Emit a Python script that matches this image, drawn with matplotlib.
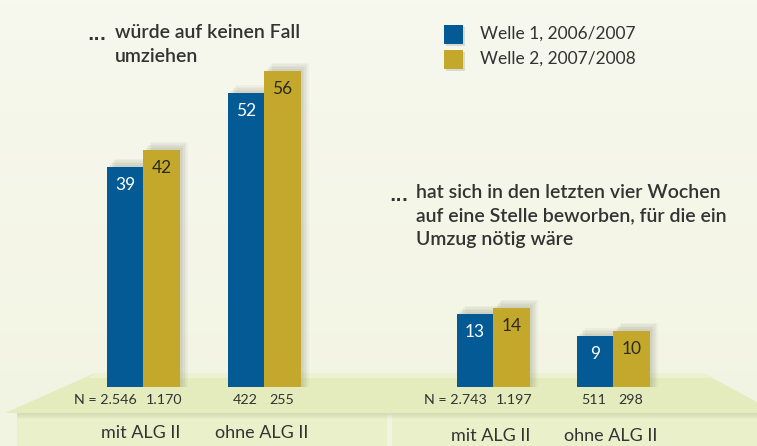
import matplotlib.pyplot as plt
import numpy as np
from matplotlib.patches import Polygon, Rectangle
from matplotlib.colors import LinearSegmentedColormap

# data
waves = ['Welle 1, 2006/2007', 'Welle 2, 2007/2008']
groups = ['mit ALG II', 'ohne ALG II', 'mit ALG II', 'ohne ALG II']
welle1 = [39, 52, 13, 9]
welle2 = [42, 56, 14, 10]
n1 = ['N = 2.546', '422', 'N = 2.743', '511']
n2 = ['1.170', '255', '1.197', '298']
title_left = 'würde auf keinen Fall\numziehen'
title_right = 'hat sich in den letzten vier Wochen\nauf eine Stelle beworben, für die ein\nUmzug nötig wäre'

blue = '#035a94'
gold = '#c4a82c'
txt = '#333333'
plt.rcParams['font.family'] = ['Lato', 'DejaVu Sans']

W, H = 757, 446
fig = plt.figure(figsize=(W / 100, H / 100), dpi=100)

# background / decoration axes in pixel units
bg = fig.add_axes([0, 0, 1, 1])
bg.set_xlim(0, W)
bg.set_ylim(H, 0)
bg.axis('off')
grad = np.linspace(0, 1, 100)[:, None]
bg.imshow(grad, extent=[0, W, H, 0], cmap=LinearSegmentedColormap.from_list(
    'bg', ['#f7f8ee', '#f2f4e2']), aspect='auto', zorder=0)

bg.add_patch(Polygon([(95, 373), (703, 373), (757, 402), (757, 413), (5, 413)],
                     closed=True, fc='#e4ecbd', ec='none', zorder=1))
bg.add_patch(Polygon([(95, 373), (703, 373), (712, 378), (88, 378)],
                     closed=True, fc='#ecf1d0', ec='none', zorder=1))
bg.add_patch(Rectangle((17, 413), 370, 40, fc='#eaf0ca', ec='none', zorder=1))
bg.add_patch(Rectangle((392, 413), 370, 40, fc='#eaf0ca', ec='none', zorder=1))
for k in range(6):
    bg.add_patch(Rectangle((17, 413), 745, 6 - k, fc='#b8bf9a', alpha=0.08, ec='none', zorder=1.5))

# bars axes: x in pixels, y in percent
ax = fig.add_axes([0, 0, 1, 1])
ax.patch.set_alpha(0)
ax.axis('off')
ax.set_xlim(0, W)
ppu = 5.65
ax.set_ylim(-(H - 387) / ppu, 387 / ppu)

x_blue = np.array([125, 246, 475, 595])
bw = 36.5
x_gold = x_blue + bw

# soft shadows
for k in range(5):
    off = 2 + k * 1.5
    ax.bar(x_blue + off, np.array(welle1) + off / ppu, width=bw, color='#707060',
           alpha=0.06, zorder=2)
    ax.bar(x_gold + off, np.array(welle2) + off / ppu, width=bw, color='#707060',
           alpha=0.06, zorder=2)

ax.bar(x_blue, welle1, width=bw, color=blue, zorder=3)
ax.bar(x_gold, welle2, width=bw, color=gold, zorder=3)

for xb, xg, v1, v2, a, b in zip(x_blue, x_gold, welle1, welle2, n1, n2):
    ax.text(xb, v1 - 3.2, str(v1), ha='center', va='center', color='white', fontsize=12.5, zorder=4)
    ax.text(xg, v2 - 3.2, str(v2), ha='center', va='center', color='#2a2a20', fontsize=12.5, zorder=4)
    if a.startswith('N'):
        ax.text(xb + 12, -2.3, a, ha='right', va='center', color=txt, fontsize=10.3)
        ax.text(xg + 3, -2.3, b, ha='center', va='center', color=txt, fontsize=10.3)
    else:
        ax.text(xb - 1, -2.3, a, ha='center', va='center', color=txt, fontsize=10.3)
        ax.text(xg - 1, -2.3, b, ha='center', va='center', color=txt, fontsize=10.3)

for xc, g, yo in zip((x_blue + x_gold) / 2 - 3, groups, [-8.1, -8.1, -8.6, -8.6]):
    ax.text(xc, yo, g, ha='center', va='center', color=txt, fontsize=13)

# titles
bg.text(87, 40, '...', ha='left', va='baseline', color=txt, fontsize=12,
        fontweight='bold', family='DejaVu Sans')
bg.text(115, 44.5, title_left, ha='left', va='center', color=txt, fontsize=14,
        fontweight='semibold', linespacing=1.5)
bg.text(389, 201, '...', ha='left', va='baseline', color=txt, fontsize=12,
        fontweight='bold', family='DejaVu Sans')
bg.text(416, 216, title_right, ha='left', va='center', color=txt, fontsize=14,
        fontweight='semibold', linespacing=1.44)

# legend
for i, (lab, c) in enumerate(zip(waves, [blue, gold])):
    y = 34 + i * 25
    bg.add_patch(Rectangle((446, y - 7), 19, 19, fc='#8a8a80', alpha=0.25, ec='none', zorder=2))
    bg.add_patch(Rectangle((444, y - 9), 19, 19, fc=c, ec='none', zorder=3))
    bg.text(480, y, lab, ha='left', va='center', color=txt, fontsize=12.5)

fig.savefig('out.png', dpi=100)
